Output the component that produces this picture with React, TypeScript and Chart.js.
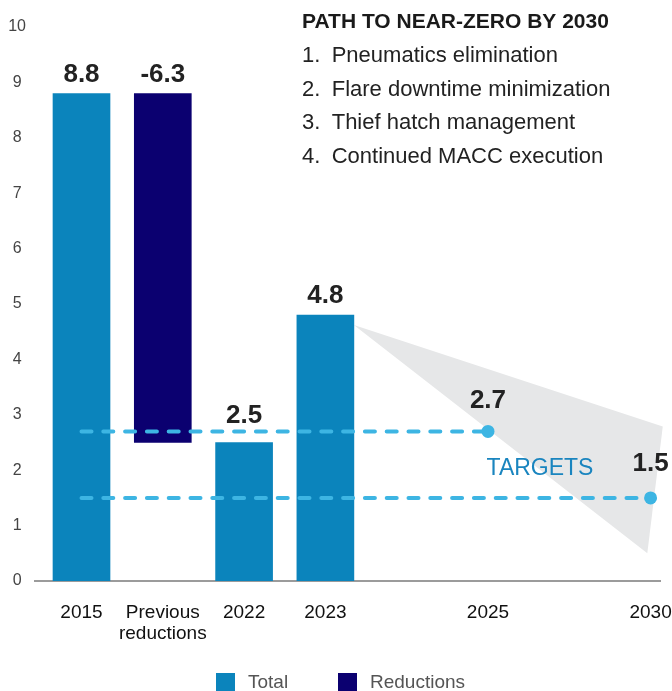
import React, { useEffect, useRef } from "react";
import { Chart, registerables } from "chart.js";

Chart.register(...registerables);

// ---- data ----
const categories: (string | string[])[] = ["2015", ["Previous", "reductions"], "2022", "2023", "", "2025", "", "2030"];
const tickPositions = [0, 1, 2, 3, 5, 7];
const totalPositions = [0, 2, 3];
const totalValues = [8.8, 2.5, 4.8];
const reductionPositions = [1];
const reductionRanges: [number, number][] = [[2.5, 8.8]];
const targetStart = 0;
const targetPositions = [5, 7];
const targetValues = [2.7, 1.5];
const coneX = [3.35, 7.15, 6.96];
const coneY = [4.62, 2.79, 0.5];
const pathTitle = "PATH TO NEAR-ZERO BY 2030";
const pathItems = ["Pneumatics elimination", "Flare downtime minimization", "Thief hatch management", "Continued MACC execution"];
const targetsLabel = "TARGETS";
const legendLabels = ["Total", "Reductions"];

const FONT = '"Liberation Sans", Arial, sans-serif';
const TOTAL_COLOR = "#0b84bc";
const RED_COLOR = "#0b0070";
const TARGET_COLOR = "#3db5e3";

const annotationPlugin = {
  id: "annotations",
  beforeDatasetsDraw(chart: any) {
    const { ctx, scales } = chart;
    const x = scales.x, y = scales.y;
    ctx.save();
    ctx.beginPath();
    coneX.forEach((v, i) => {
      const px = x.getPixelForValue(v);
      const py = y.getPixelForValue(coneY[i]);
      if (i === 0) ctx.moveTo(px, py);
      else ctx.lineTo(px, py);
    });
    ctx.closePath();
    ctx.fillStyle = "#e6e7e8";
    ctx.fill();
    ctx.restore();
  },
  afterDatasetsDraw(chart: any) {
    const { ctx, scales } = chart;
    const x = scales.x, y = scales.y;
    ctx.save();
    ctx.fillStyle = "#222";
    ctx.font = `bold 26px ${FONT}`;
    ctx.textAlign = "center";
    ctx.textBaseline = "alphabetic";
    const totalGaps = [11.5, 20, 12];
    totalPositions.forEach((p, i) => {
      ctx.fillText(totalValues[i].toFixed(1), x.getPixelForValue(p), y.getPixelForValue(totalValues[i]) - totalGaps[i]);
    });
    reductionPositions.forEach((p, i) => {
      const [lo, hi] = reductionRanges[i];
      ctx.fillText((lo - hi).toFixed(1), x.getPixelForValue(p), y.getPixelForValue(Math.max(lo, hi)) - 11.5);
    });
    const targetGaps = [23.4, 27];
    targetPositions.forEach((p, i) => {
      ctx.fillText(targetValues[i].toFixed(1), x.getPixelForValue(p), y.getPixelForValue(targetValues[i]) - targetGaps[i]);
    });
    ctx.fillStyle = "#1a85bf";
    ctx.font = `23px ${FONT}`;
    ctx.fillText(targetsLabel, 540, 475);
    ctx.restore();
  },
  afterDraw(chart: any) {
    const { ctx } = chart;
    ctx.save();
    ctx.textAlign = "left";
    ctx.textBaseline = "alphabetic";
    ctx.fillStyle = "#1a1a1a";
    ctx.font = `bold 21px ${FONT}`;
    ctx.fillText(pathTitle, 302, 28.3);
    ctx.font = `22px ${FONT}`;
    ctx.fillStyle = "#222";
    pathItems.forEach((t, i) => {
      const by = 62.3 + i * 33.4;
      ctx.fillText(`${i + 1}.`, 302, by);
      ctx.fillText(t, 331.7, by);
    });
    // legend
    const items = chart.data.datasets.filter((d: any) => legendLabels.includes(d.label));
    const boxX = [216, 338];
    ctx.font = `19px ${FONT}`;
    ctx.textBaseline = "middle";
    items.forEach((d: any, i: number) => {
      ctx.fillStyle = d.backgroundColor;
      ctx.fillRect(boxX[i], 673, 19, 19);
      ctx.fillStyle = "#555";
      ctx.fillText(d.label, boxX[i] + 32, 683);
    });
    ctx.restore();
  },
};

export default function App() {
  const ref = useRef<HTMLCanvasElement | null>(null);
  useEffect(() => {
    document.body.style.margin = "0";
    const canvas = ref.current;
    if (!canvas) return;
    const chart = new Chart(canvas, {
      type: "bar",
      data: {
        datasets: [
          {
            type: "bar",
            label: "Total",
            data: totalPositions.map((p, i) => ({ x: p, y: totalValues[i] })),
            backgroundColor: TOTAL_COLOR,
            borderWidth: 0,
            barThickness: 57,
            grouped: false,
            order: 1,
          } as any,
          {
            type: "bar",
            label: "Reductions",
            data: reductionPositions.map((p, i) => ({ x: p, y: reductionRanges[i] })),
            backgroundColor: RED_COLOR,
            borderWidth: 0,
            barThickness: 57,
            grouped: false,
            order: 1,
          } as any,
          ...targetPositions.map((p, i) => ({
            type: "line",
            label: "Target " + categories[p],
            data: [
              { x: targetStart, y: targetValues[i] },
              { x: p, y: targetValues[i] },
            ],
            borderColor: TARGET_COLOR,
            borderWidth: 4,
            borderDash: [10, 11.8],
            borderCapStyle: "round",
            pointRadius: [0, 6.5],
            pointHoverRadius: [0, 6.5],
            pointBackgroundColor: TARGET_COLOR,
            pointBorderWidth: 0,
            fill: false,
            order: 0,
          })) as any,
        ],
      },
      options: {
        animation: false,
        responsive: false,
        maintainAspectRatio: false,
        layout: { padding: { top: 27, left: 0, right: 12, bottom: 0 } },
        scales: {
          x: {
            type: "linear",
            min: -0.572,
            max: 7.116,
            offset: false,
            grid: { display: false, drawTicks: false },
            border: { display: true, color: "#9b9b9b", width: 2 },
            afterBuildTicks: (s: any) => {
              s.ticks = tickPositions.map((v) => ({ value: v }));
            },
            afterFit: (s: any) => {
              s.height = 110;
              s.paddingLeft = 0;
              s.paddingRight = 0;
            },
            ticks: {
              autoSkip: false,
              maxRotation: 0,
              padding: 21.5,
              color: "#111",
              font: { size: 19, family: FONT, lineHeight: 1.1 },
              callback: (v: any) => categories[v] as any,
            },
          } as any,
          y: {
            min: 0,
            max: 10,
            grid: { display: false, drawTicks: false },
            border: { display: false },
            afterFit: (s: any) => {
              s.width = 35;
              s.paddingTop = 0;
              s.paddingBottom = 0;
            },
            ticks: {
              stepSize: 1,
              color: "#444",
              crossAlign: "center",
              padding: 9,
              font: { size: 16, family: FONT },
            },
          } as any,
        },
        plugins: {
          tooltip: { enabled: false },
          legend: { display: false },
        },
      },
      plugins: [annotationPlugin],
    });
    return () => chart.destroy();
  }, []);
  return (
    <div style={{ width: 672, height: 691, overflow: "hidden", position: "relative" }}>
      <canvas ref={ref} width={672} height={691} style={{ display: "block", width: 672, height: 691 }} />
    </div>
  );
}
